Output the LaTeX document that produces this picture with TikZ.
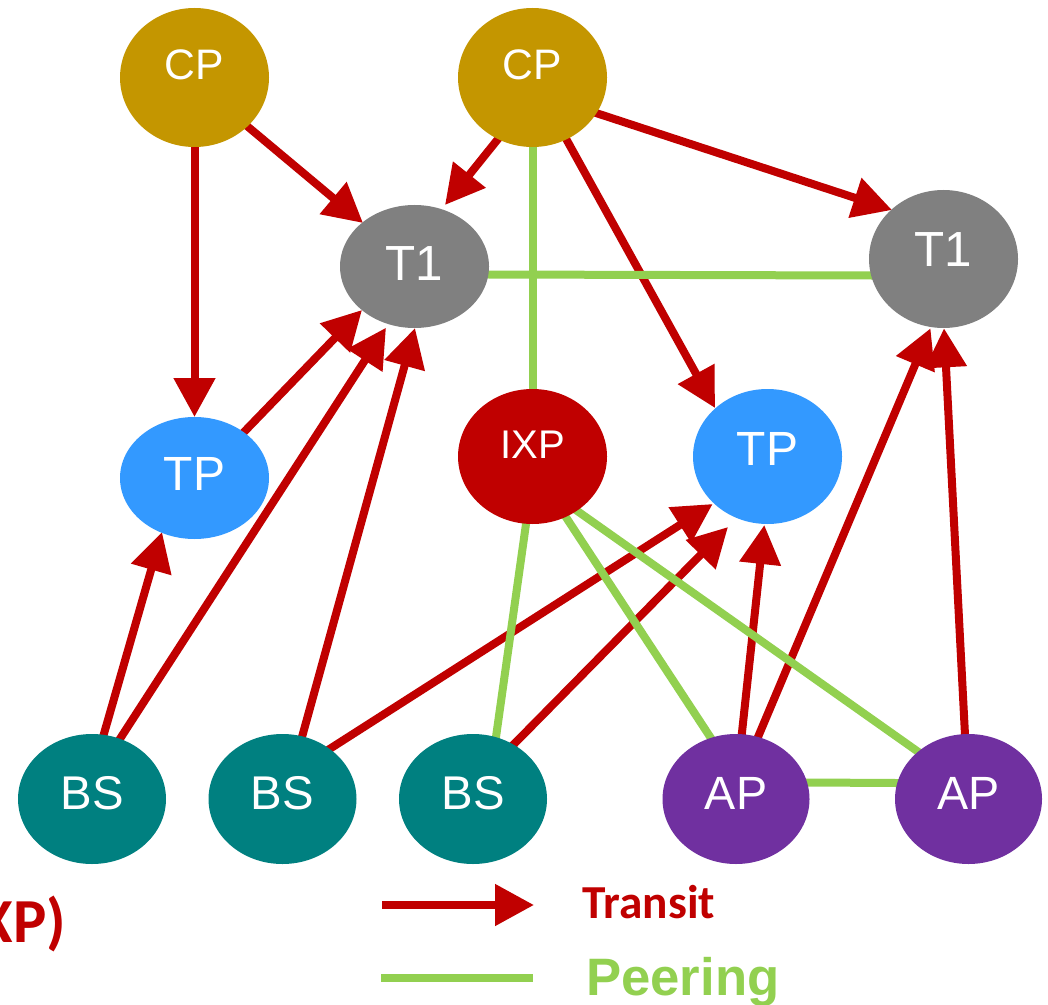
\documentclass[tikz,border=0pt]{standalone}
\usepackage{fontspec}
\setmainfont{Liberation Sans}
\newfontfamily\legendfont{Carlito}
\usetikzlibrary{arrows.meta,shapes.geometric,calc}

\definecolor{cpgold}{HTML}{C49600}
\definecolor{tgray}{HTML}{808080}
\definecolor{tpblue}{HTML}{3399FF}
\definecolor{ixpred}{HTML}{C00000}
\definecolor{bsteal}{HTML}{008080}
\definecolor{appurple}{HTML}{7030A0}
\definecolor{transitred}{HTML}{C00000}
\definecolor{peergreen}{HTML}{92D050}

\pgfdeclarelayer{bg}
\pgfdeclarelayer{edges}
\pgfsetlayers{bg,edges,main}

\begin{document}
\begin{tikzpicture}[x=0.75pt,y=-0.75pt,
  asnode/.style={shape=ellipse, draw=none, inner sep=0pt, outer sep=0pt, minimum width=111.75pt},
  tag/.style={text=white, inner sep=0pt},
  lab/.style n args={3}{label={[tag,yshift=#2,font=\fontsize{#3}{#3}\selectfont]center:#1}},
  transit/.style={draw=transitred, line width=6pt, -{Triangle[length=29.25pt,width=30pt]}},
  peer/.style={draw=peergreen, line width=6pt},
]
\useasboundingbox (0,0) rectangle (1048,1005);
\begin{pgfonlayer}{bg}
  \fill[white] (0,0) rectangle (1048,1005);
\end{pgfonlayer}

% autonomous systems
\node[asnode, fill=cpgold, minimum height=104.25pt, lab={CP}{9.4pt}{32}] (cp1) at (194.5,77.5) {};
\node[asnode, fill=cpgold, minimum height=104.25pt, lab={CP}{9.4pt}{32}] (cp2) at (532.5,77.5) {};
\node[asnode, fill=tgray, minimum height=92.25pt, lab={T1}{2.6pt}{37}] (t1a) at (414.5,266.5) {};
\node[asnode, fill=tgray, minimum height=103.5pt, lab={T1}{6.75pt}{37}] (t1b) at (943.5,259) {};
\node[asnode, fill=tpblue, minimum height=91.5pt, lab={TP}{3pt}{36}] (tpa) at (194.5,478) {};
\node[asnode, fill=ixpred, minimum height=101.25pt, lab={IXP}{8.6pt}{30}] (ixp) at (532.5,456.5) {};
\node[asnode, fill=tpblue, minimum height=101.25pt, lab={TP}{5.6pt}{36}] (tpb) at (767.5,456.5) {};
\node[asnode, fill=bsteal, minimum width=111pt, minimum height=97.5pt, lab={BS}{4.5pt}{35.5}] (bs1) at (92,799) {};
\node[asnode, fill=bsteal, minimum width=111pt, minimum height=97.5pt, lab={BS}{4.5pt}{35.5}] (bs2) at (282.5,799) {};
\node[asnode, fill=bsteal, minimum width=111pt, minimum height=97.5pt, lab={BS}{4.5pt}{35.5}] (bs3) at (473,799) {};
\node[asnode, fill=appurple, minimum width=110.25pt, minimum height=97.5pt, lab={AP}{4.5pt}{35}] (ap1) at (736,799) {};
\node[asnode, fill=appurple, minimum width=110.25pt, minimum height=97.5pt, lab={AP}{4.5pt}{35}] (ap2) at (968.5,799) {};

\begin{pgfonlayer}{edges}
  % transit relations (customer -> provider)
  \begin{scope}[shorten <=-4pt]
    \draw[transit] ($(cp1.center)+(0,69.5)$) -- ($(tpa.center)+(0,-61)$);
    \draw[transit] ($(cp1.center)+(52.5,48.5)$) -- ($(t1a.center)+(-51.5,-43.5)$);
    \draw[transit] ($(cp2.center)+(-34.5,61.5)$) -- ($(t1a.center)+(30.5,-61.5)$);
    \draw[transit] ($(cp2.center)+(63.5,35.5)$) -- ($(t1b.center)+(-51.5,-49)$);
    \draw[transit] ($(cp2.center)+(33.9,61.9)$) -- ($(tpb.center)+(-52.5,-48.5)$);
    \draw[transit] ($(tpa.center)+(49.5,-46)$) -- ($(t1a.center)+(-52.5,43.5)$);
    \draw[transit] ($(bs1.center)+(11.6,-64)$) -- ($(tpa.center)+(-32.5,54)$);
    \draw[transit] ($(bs1.center)+(28.5,-61)$) -- ($(t1a.center)+(-28.5,61.2)$);
    \draw[transit] ($(bs2.center)+(19.5,-62)$) -- ($(t1a.center)+(0.5,61.5)$);
    \draw[transit] ($(bs2.center)+(47.5,-50.3)$) -- ($(tpb.center)+(-54.8,47.5)$);
    \draw[transit] ($(bs3.center)+(40.5,-54.4)$) -- ($(tpb.center)+(-39.5,70.5)$);
    \draw[transit] ($(ap1.center)+(5.7,-64)$) -- ($(tpb.center)+(-3.2,68.5)$);
    \draw[transit] ($(ap1.center)+(22,-62)$) -- ($(t1b.center)+(-13,69.3)$);
    \draw[transit] ($(ap2.center)+(-3.5,-64)$) -- ($(t1b.center)+(0.5,69.3)$);
  \end{scope}
  % peering relations
  \begin{scope}[shorten <=-4pt, shorten >=-4pt]
    \draw[peer] ($(cp2.center)+(0,69.5)$) -- ($(ixp.center)+(0,-67.5)$);
    \draw[peer] ($(t1a.center)+(74,8)$) -- ($(t1b.center)+(-72.5,16.5)$);
    \draw[peer] ($(ixp.center)+(-6.5,67.5)$) -- ($(bs3.center)+(23,-62)$);
    \draw[peer] ($(ixp.center)+(33,60)$) -- ($(ap1.center)+(-26,-62.3)$);
    \draw[peer] ($(ixp.center)+(45.5,55)$) -- ($(ap2.center)+(-50.5,-47.3)$);
    \draw[peer] ($(ap1.center)+(70.5,-16.5)$) -- ($(ap2.center)+(-72,-16)$);
  \end{scope}
\end{pgfonlayer}

% legend
\node[anchor=base west, inner sep=0pt, text=transitred,
      font=\legendfont\bfseries\fontsize{47}{47}\selectfont] (ixptag) at (-21.5,942) {XP)};
\coordinate (legA) at (382,905);
\coordinate (legB) at (534,905);
\draw[transit] (legA) -- (legB);
\node[anchor=base west, inner sep=0pt, text=transitred,
      font=\legendfont\bfseries\fontsize{35.5}{35.5}\selectfont] (transitkey) at (582.5,918) {Transit};
\coordinate (legC) at (381,977.5);
\coordinate (legD) at (533,977.5);
\draw[peer] (legC) -- (legD);
\node[anchor=base west, inner sep=0pt, text=peergreen,
      font=\bfseries\fontsize{39.5}{39.5}\selectfont] (peerkey) at (586,995) {Peering};
\end{tikzpicture}
\end{document}
